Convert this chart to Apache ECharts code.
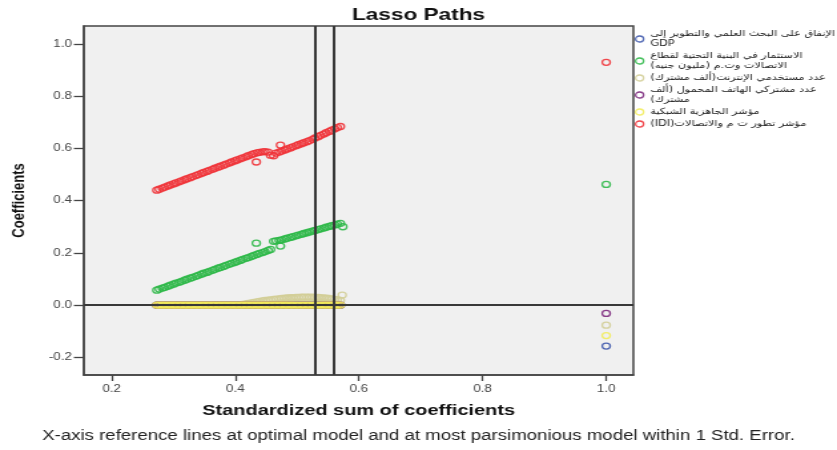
<!DOCTYPE html>
<html><head><meta charset="utf-8">
<script src="https://cdn.jsdelivr.net/npm/echarts@6/dist/echarts.min.js"></script>
<style>
html,body{margin:0;padding:0;background:#fff;overflow:hidden;}
#wrap{width:837px;height:450px;overflow:hidden;}
#chart{width:629px;height:450px;transform:scaleX(1.3307);transform-origin:0 0;}
</style></head><body>
<div id="wrap"><div id="chart"></div></div>
<script>
// ---- data ----
const seriesNames = ['rd_gdp','ict_invest','internet_users','mobile_subs','network_ready','idi'];
const legendLines = [
  ['الإنفاق على البحث العلمي والتطوير إلى', 'GDP'],
  ['الاستثمار في البنية التحتية لقطاع', 'الاتصالات وت.م (مليون جنيه)'],
  ['عدد مستخدمي الإنترنت(ألف مشترك)'],
  ['عدد مشتركي الهاتف المحمول (ألف', 'مشترك)'],
  ['مؤشر الجاهزية الشبكية'],
  ['مؤشر تطور ت م والاتصالات(IDI)']
];
const colors = ['#3E58AC','#2EB848','#D3CE97','#7C287D','#F2EC5A','#EF3338'];

const steps = [0.273,0.277,0.282,0.286,0.291,0.295,0.300,0.304,0.309,0.313,
  0.318,0.322,0.327,0.331,0.336,0.340,0.345,0.349,0.354,0.358,
  0.363,0.367,0.372,0.376,0.381,0.385,0.390,0.394,0.399,0.403,
  0.408,0.412,0.417,0.421,0.426,0.430,0.435,0.439,0.444,0.448,
  0.453,0.457,0.462,0.466,0.471,0.475,0.480,0.484,0.489,0.493,
  0.498,0.502,0.507,0.511,0.516,0.520,0.525,0.529,0.534,0.538,
  0.543,0.547,0.552,0.556,0.561,0.565,0.570];

const blueVals = [0,0,0,0,0,0,0,0,0,0, 0,0,0,0,0,0,0,0,0,0, 0,0,0,0,0,0,0,0,0,0,
  0,0,0,0,0,0,0,0,0,0, 0,0,0,0,0,0,0,0,0,0, 0,0,0,0,0,0,0,0,0,0, 0,0,0,0,0,0,0];
const greenVals = [0.057,0.061,0.065,0.068,0.072,0.076,0.080,0.084,0.087,0.091,
  0.095,0.099,0.103,0.106,0.110,0.114,0.118,0.122,0.125,0.129,
  0.133,0.137,0.141,0.144,0.148,0.152,0.156,0.160,0.163,0.167,
  0.171,0.175,0.179,0.182,0.186,0.190,0.194,0.198,0.201,0.205,
  0.209,0.213,0.244,0.246,0.248,0.250,0.253,0.256,0.259,0.262,
  0.265,0.268,0.271,0.274,0.277,0.280,0.283,0.286,0.289,0.292,
  0.295,0.298,0.301,0.304,0.307,0.310,0.313];
const beigeVals = [0,0,0,0,0,0,0,0,0,0, 0,0,0,0,0,0,0,0,0,0, 0,0,0,0,0,0,0,0,0,0,
  0,0.002,0.004,0.006,0.008,0.010,0.012,0.014,0.016,0.018,
  0.019,0.020,0.022,0.023,0.024,0.025,0.026,0.027,0.028,0.028,
  0.029,0.029,0.030,0.030,0.030,0.030,0.030,0.029,0.029,0.028,
  0.027,0.026,0.025,0.023,0.022,0.020,0.018];
const purpleVals = [0,0,0,0,0,0,0,0,0,0, 0,0,0,0,0,0,0,0,0,0, 0,0,0,0,0,0,0,0,0,0,
  0,0,0,0,0,0,0,0,0,0, 0,0,0,0,0,0,0,0,0,0, 0,0,0,0,0,0,0,0,0,0, 0,0,0,0,0,0,0];
const yellowVals = [0,0,0,0,0,0,0,0,0,0, 0,0,0,0,0,0,0,0,0,0, 0,0,0,0,0,0,0,0,0,0,
  0,0,0,0,0,0,0,0,0,0, 0,0,0,0,0,0,0,0,0,0, 0,0,0,0,0,0,0,0,0,0, 0,0,0,0,0,0,0];
const redVals = [0.440,0.444,0.448,0.452,0.456,0.460,0.464,0.468,0.472,0.476,
  0.480,0.484,0.488,0.492,0.496,0.500,0.504,0.508,0.512,0.516,
  0.520,0.524,0.528,0.532,0.536,0.540,0.544,0.548,0.552,0.556,
  0.560,0.564,0.568,0.572,0.576,0.580,0.583,0.585,0.587,0.588,
  0.586,0.574,0.572,0.582,0.586,0.590,0.594,0.598,0.602,0.606,
  0.610,0.614,0.618,0.622,0.626,0.630,0.635,0.640,0.645,0.650,
  0.655,0.660,0.665,0.670,0.675,0.680,0.684];

// off-path points
const blueExtraX = [],  blueExtraY = [];
const greenExtraX = [0.434, 0.473, 0.574], greenExtraY = [0.237, 0.226, 0.300];
const beigeExtraX = [0.573], beigeExtraY = [0.038];
const purpleExtraX = [], purpleExtraY = [];
const yellowExtraX = [], yellowExtraY = [];
const redExtraX = [0.434, 0.473], redExtraY = [0.548, 0.613];

// full model (standardized sum = 1.0)
const fullX = 1.0;
const fullVals = [-0.157, 0.462, -0.077, -0.032, -0.117, 0.930];

const refLinesX = [0.534, 0.564];
const xTicks = [0.2, 0.4, 0.6, 0.8, 1.0];
const yTicks = [-0.2, 0.0, 0.2, 0.4, 0.6, 0.8, 1.0];

// ---- build ----
const valsList = [blueVals, greenVals, beigeVals, purpleVals, yellowVals, redVals];
const exX = [blueExtraX, greenExtraX, beigeExtraX, purpleExtraX, yellowExtraX, redExtraX];
const exY = [blueExtraY, greenExtraY, beigeExtraY, purpleExtraY, yellowExtraY, redExtraY];
const pts = (xs, ys) => xs.map((x, i) => [x, ys[i]]);
const RLE = '\u202B', PDF = '\u202C';
const legendText = {};
seriesNames.forEach((n, i) => {
  legendText[n] = legendLines[i].map(l => /[\u0600-\u06FF]/.test(l) ? RLE + l + PDF : l).join('\n');
});

const series = seriesNames.map((n, i) => ({
  name: n, type: 'scatter', symbol: 'circle', symbolSize: 6, silent: true, z: 2,
  itemStyle: { color: 'rgba(0,0,0,0)', borderColor: colors[i], borderWidth: 1.3, opacity: 0.9 },
  data: pts(steps, valsList[i]).concat(pts(exX[i], exY[i])).concat([[fullX, fullVals[i]]])
}));
series.push({
  type: 'line', data: [], silent: true, z: 5,
  markLine: {
    symbol: 'none', silent: true, animation: false, label: { show: false },
    lineStyle: { color: '#383838', width: 2, type: 'solid' },
    data: refLinesX.map(v => ({ xAxis: v })).concat([{ yAxis: 0 }])
  }
});

const chart = echarts.init(document.getElementById('chart'));
chart.setOption({
  animation: false,
  backgroundColor: '#ffffff',
  title: {
    text: 'Lasso Paths', left: 'center', top: 2,
    textStyle: { fontFamily: 'Liberation Sans', fontWeight: 'bold', fontSize: 17, color: '#111' }
  },
  grid: {
    left: 62.4, right: 153, top: 26, bottom: 75, show: true,
    backgroundColor: '#f0f0f0', borderColor: '#444', borderWidth: 1.5
  },
  legend: {
    orient: 'vertical', left: 472, top: 24, itemWidth: 6, itemHeight: 6, itemGap: 2,
    icon: 'circle', selectedMode: false,
    formatter: name => legendText[name],
    textStyle: { fontFamily: 'DejaVu Sans', fontSize: 8.5, lineHeight: 10, color: '#222' },
    data: seriesNames.map((n, i) => ({
      name: n, itemStyle: { color: 'rgba(0,0,0,0)', borderColor: colors[i], borderWidth: 1.3 }
    }))
  },
  xAxis: {
    type: 'value', min: 0.155, max: 1.044,
    name: 'Standardized sum of coefficients', nameLocation: 'middle', nameGap: 28,
    nameTextStyle: { fontFamily: 'Liberation Sans', fontWeight: 'bold', fontSize: 15, color: '#111' },
    splitLine: { show: false },
    axisLine: { show: true, onZero: false, lineStyle: { color: '#444', width: 1.5 } },
    axisTick: { show: true, customValues: xTicks, length: 6, lineStyle: { color: '#444', width: 1.3 } },
    axisLabel: { customValues: xTicks, formatter: v => Number(v).toFixed(1), color: '#444',
      fontFamily: 'Liberation Sans', fontSize: 10, margin: 9 }
  },
  yAxis: {
    type: 'value', min: -0.268, max: 1.069,
    name: 'Coefficients', nameLocation: 'middle', nameGap: 42, nameRotate: 90,
    nameTextStyle: { fontFamily: 'Liberation Sans', fontWeight: 'bold', fontSize: 13, color: '#111' },
    splitLine: { show: false },
    axisLine: { show: true, onZero: false, lineStyle: { color: '#444', width: 1.5 } },
    axisTick: { show: true, customValues: yTicks, length: 7.5, lineStyle: { color: '#444', width: 1.3 } },
    axisLabel: { customValues: yTicks, formatter: v => Number(v).toFixed(1), color: '#444',
      fontFamily: 'Liberation Sans', fontSize: 10, margin: 9 }
  },
  graphic: [{
    type: 'text', left: 'center', top: 429, silent: true,
    style: { text: 'X-axis reference lines at optimal model and at most parsimonious model within 1 Std. Error.',
      font: '14px "Liberation Sans"', fill: '#222' }
  }],
  series: series
});
</script>
</body></html>
